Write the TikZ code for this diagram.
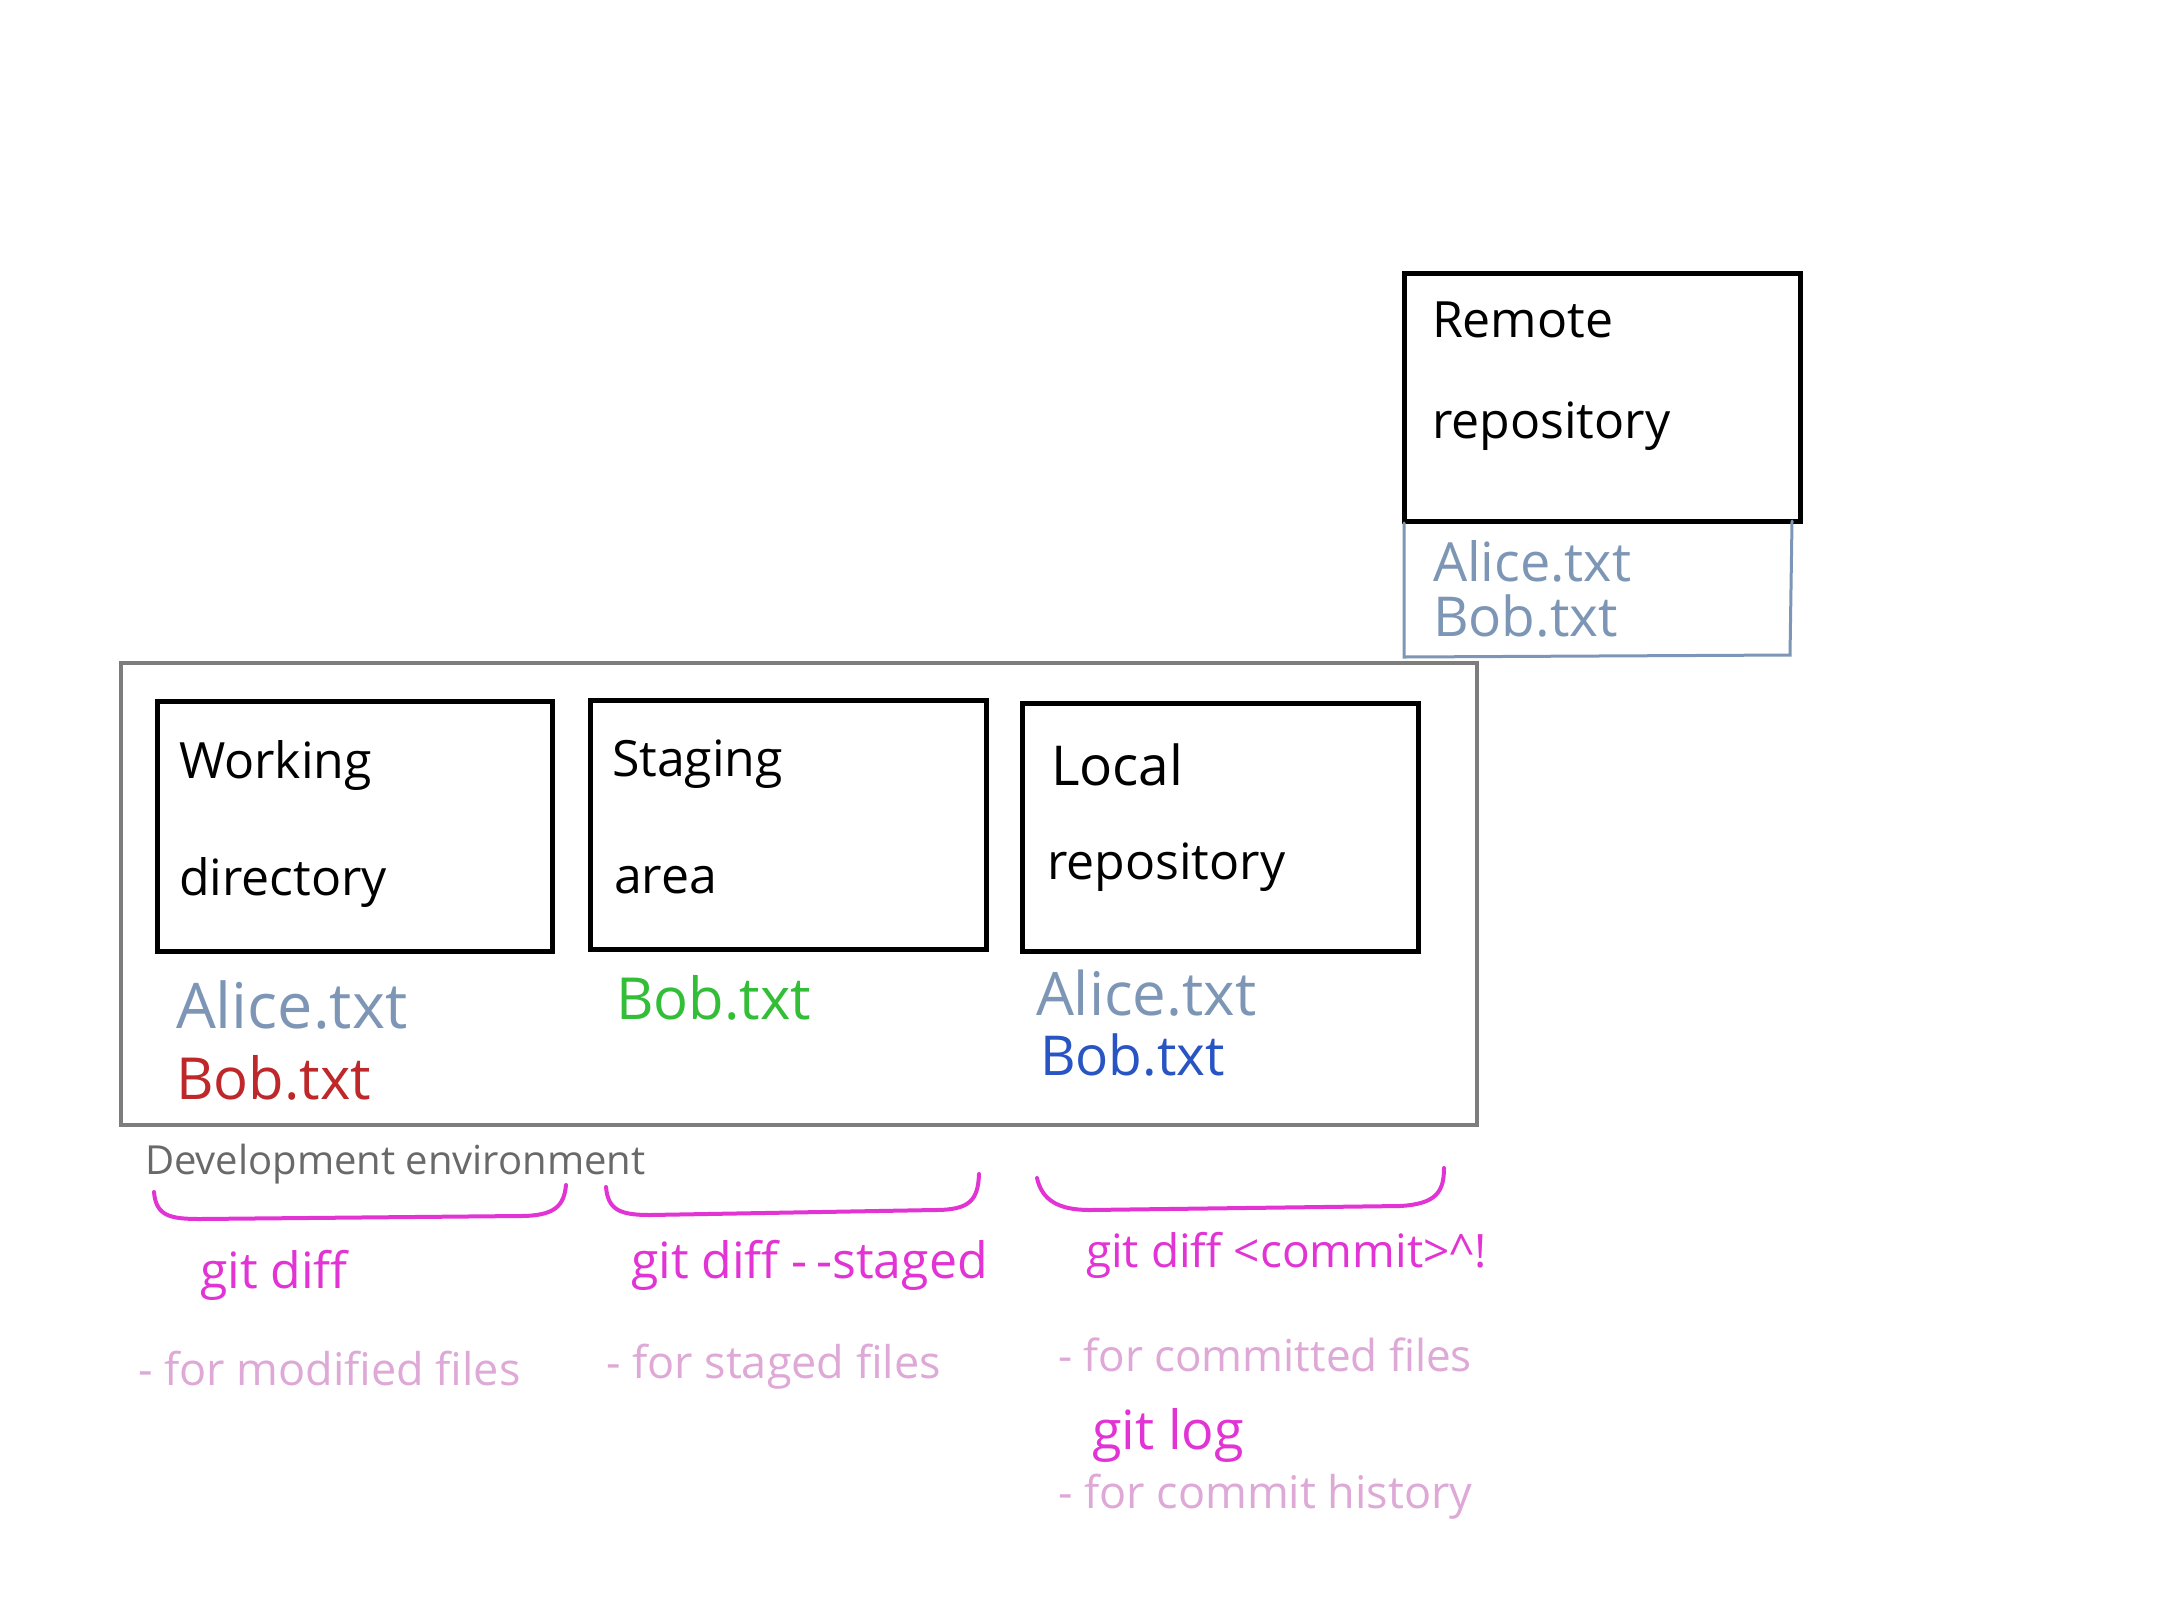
\documentclass[tikz,border=0pt]{standalone}
\usepackage{fontspec}
\setmainfont{Open Sans}
\definecolor{slate}{RGB}{125,150,182}
\definecolor{fred}{RGB}{190,40,42}
\definecolor{fgreen}{RGB}{50,190,55}
\definecolor{fblue}{RGB}{40,85,195}
\definecolor{mag}{RGB}{226,52,212}
\definecolor{lpurp}{RGB}{222,168,215}
\definecolor{dgray}{RGB}{125,125,125}
\definecolor{tgray}{RGB}{105,105,105}
\newcommand{\fs}[1]{\fontsize{#1}{#1}\selectfont}
\tikzset{
  area/.style={draw=black, line width=5pt, rectangle, inner sep=0pt},
  devbox/.style={draw=dgray, line width=4pt, rectangle, inner sep=0pt},
  txt/.style={anchor=base west, inner sep=0pt, outer sep=0pt},
  title/.style={txt, font=\fs{50}},
  file/.style={txt, font=\fs{58}},
  cmd/.style={txt, text=mag, font=\fs{50}},
  note/.style={txt, text=lpurp, font=\fs{45}},
  brace/.style={draw=mag, line width=4pt, line cap=round},
  frame/.style={draw=slate, line width=3pt, line cap=round}
}
\begin{document}
\begin{tikzpicture}[x=1pt,y=-1pt]
\useasboundingbox (0,0) rectangle (2160,1620);
\fill[white] (0,0) rectangle (2160,1620);

% development environment
\node[devbox, minimum width=1356pt, minimum height=462pt] (dev) at (799,894) {};

% boxes
\node[area, minimum width=396pt, minimum height=248pt] (remote) at (1602,397) {};
\node[area, minimum width=395pt, minimum height=250pt] (wd) at (354.5,826) {};
\node[area, minimum width=396pt, minimum height=249pt] (sa) at (788,824.5) {};
\node[area, minimum width=396pt, minimum height=248pt] (lr) at (1220,827) {};

% remote file frame
\coordinate (rf1) at (1404,523);
\coordinate (rf2) at (1404,657);
\coordinate (rf3) at (1790,655);
\coordinate (rf4) at (1792,521);
\draw[frame] (rf1) -- (rf2) -- (rf3) -- (rf4);

% titles
\node[title] (remoteA) at (1432,337) {Remote};
\node[title] (remoteB) at (1432,438) {repository};
\node[title] (wdA) at (179,778) {Working};
\node[title] (wdB) at (179,895) {directory};
\node[title] (saA) at (612,776) {Staging};
\node[title] (saB) at (614,893) {area};
\node[title, font=\fs{55}] (lrA) at (1051,785) {Local};
\node[title] (lrB) at (1047,879) {repository};

% files
\node[file, text=slate, font=\fs{63}] (wdAlice) at (176,1028) {Alice.txt};
\node[file, text=fred] (wdBob) at (176,1099) {Bob.txt};
\node[file, text=fgreen] (saBob) at (616,1019) {Bob.txt};
\node[file, text=slate, font=\fs{60}] (lrAlice) at (1036,1015) {Alice.txt};
\node[file, text=fblue, font=\fs{55}] (lrBob) at (1040,1075) {Bob.txt};
\node[file, text=slate, font=\fs{54}] (rAlice) at (1433,581) {Alice.txt};
\node[file, text=slate, font=\fs{55}] (rBob) at (1433,636) {Bob.txt};

% dev label
\node[txt, text=tgray, font=\fs{40}] (devlabel) at (145,1174) {Development environment};

% braces
\coordinate (b1l) at (154,1192);
\coordinate (b1r) at (566,1185);
\coordinate (b2l) at (606,1187);
\coordinate (b2r) at (979,1174);
\coordinate (b3l) at (1037,1178);
\coordinate (b3r) at (1444,1168);
\draw[brace] (b1l) .. controls (156,1216) and (170,1219) .. (200,1219)
  -- (520,1216) .. controls (556,1216) and (564,1205) .. (b1r);
\draw[brace] (b2l) .. controls (608,1210) and (620,1215) .. (650,1215)
  -- (935,1210) .. controls (970,1210) and (978,1200) .. (b2r);
\draw[brace] (b3l) .. controls (1042,1200) and (1058,1210) .. (1090,1210)
  -- (1400,1206) .. controls (1436,1204) and (1444,1192) .. (b3r);

% commands
\node[cmd] (c1) at (200,1288) {git diff};
\node[cmd] (c2) at (631,1278) {git diff -\,-staged};
\node[cmd, font=\fs{46}] (c3) at (1086,1267) {git diff <commit>\textasciicircum!};
\node[note] (n1) at (138,1385) {- for modified files};
\node[note] (n2) at (606,1378) {- for staged files};
\node[note, font=\fs{44}] (n3) at (1058,1371) {- for committed files};
\node[cmd, font=\fs{54}] (c4) at (1092,1449) {git log};
\node[note] (n4) at (1058,1508) {- for commit history};
\end{tikzpicture}
\end{document}
